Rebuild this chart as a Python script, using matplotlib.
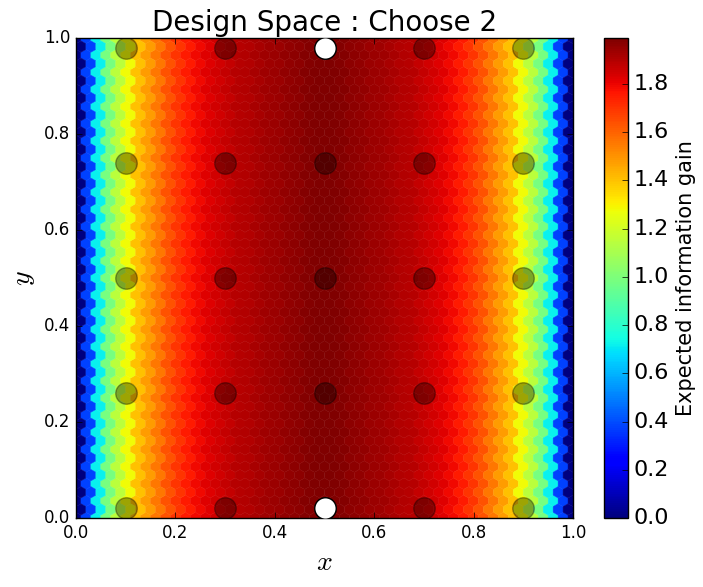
import numpy as np
import matplotlib
matplotlib.use('Agg')
import matplotlib.pyplot as plt

plt.style.use('classic')

# expected information gain at x = 0.00, 0.02, ... 0.50
# (the field is symmetric about x = 0.5 and does not change with y)
gain_left = [0.00, 0.38, 0.72, 0.98, 1.15, 1.28, 1.40, 1.48, 1.56, 1.64,
             1.70, 1.75, 1.79, 1.82, 1.85, 1.87, 1.89, 1.90, 1.92, 1.93,
             1.94, 1.955, 1.965, 1.975, 1.985, 1.99]
gain = gain_left + gain_left[-2::-1]
grid_x = np.linspace(0.0, 1.0, len(gain))
grid_y = np.linspace(0.0, 1.0, 101)

# candidate points and the two chosen ones
cand_x = [0.1, 0.3, 0.5, 0.7, 0.9]
cand_y = [0.02, 0.26, 0.5, 0.74, 0.98]
chosen_x = [0.5, 0.5]
chosen_y = [0.02, 0.98]

gx, gy = np.meshgrid(grid_x, grid_y)
gc = np.tile(gain, (len(grid_y), 1))

fig = plt.figure(figsize=(7.03, 5.87), dpi=100)
ax = fig.add_axes([76 / 703, 69 / 587, 497 / 703, 480 / 587])
cax = fig.add_axes([604 / 703, 69 / 587, 24 / 703, 480 / 587])

hb = ax.hexbin(gx.ravel(), gy.ravel(), C=gc.ravel(), gridsize=50, cmap='jet',
               edgecolors='face', linewidths=0.3)

cx, cy = np.meshgrid(cand_x, cand_y)
ax.scatter(cx.ravel(), cy.ravel(), s=240, c='k', alpha=0.35, edgecolors='k',
           linewidths=1, zorder=3)
ax.scatter(chosen_x, chosen_y, s=240, c='w', edgecolors='k', linewidths=1,
           zorder=4)

ax.set_xlim(0, 1)
ax.set_ylim(0, 1)
ax.set_xticks([0.0, 0.2, 0.4, 0.6, 0.8, 1.0])
ax.set_yticks([0.0, 0.2, 0.4, 0.6, 0.8, 1.0])
ax.tick_params(labelsize=12)
ax.set_xlabel('$x$', fontsize=20)
ax.set_ylabel('$y$', fontsize=20)
ax.set_title('Design Space : Choose 2', fontsize=20)

cb = fig.colorbar(hb, cax=cax)
cb.set_ticks([0.0, 0.2, 0.4, 0.6, 0.8, 1.0, 1.2, 1.4, 1.6, 1.8])
cb.ax.tick_params(labelsize=16)
cb.set_label('Expected information gain', fontsize=15)

fig.savefig('out.png', dpi=100, facecolor='w')
